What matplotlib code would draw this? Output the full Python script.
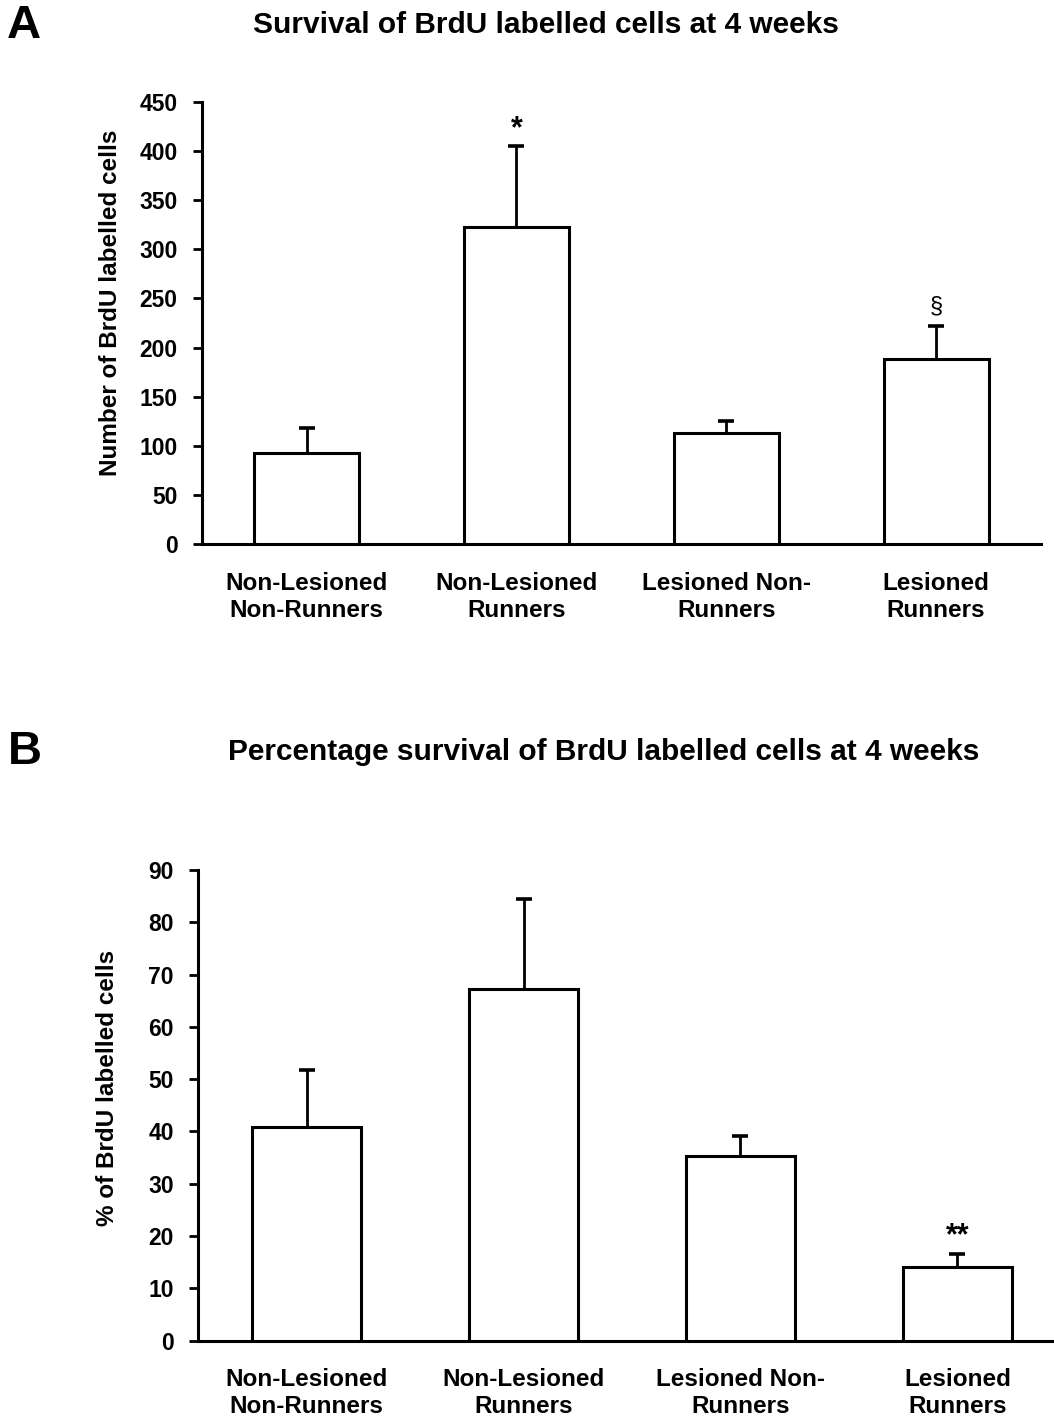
import matplotlib
matplotlib.use("Agg")
import matplotlib.pyplot as plt
import matplotlib.transforms as mtransforms
import numpy as np

plt.rcParams['font.family'] = ['Liberation Sans', 'DejaVu Sans']
plt.rcParams['font.weight'] = 'bold'

categories = ["Non-Lesioned\nNon-Runners", "Non-Lesioned\nRunners",
              "Lesioned Non-\nRunners", "Lesioned\nRunners"]

# Panel A: number of BrdU labelled cells
counts = [93, 323, 113, 188]
counts_err = [25, 82, 12, 34]
counts_marks = ["", "*", "", "§"]

# Panel B: percentage of BrdU labelled cells
percent = [40.8, 67.3, 35.2, 14.1]
percent_err = [11.0, 17.1, 3.9, 2.5]
percent_marks = ["", "", "", "**"]

W, H = 1054, 1418
fig = plt.figure(figsize=(W / 100, H / 100), dpi=100)

LW = 2.2


def panel(rect, vals, errs, marks, ymax, ystep, ylabel, title, title_xy, letter, letter_xy,
          mark_styles, ylabel_xy):
    ax = fig.add_axes(rect)
    x = np.arange(len(vals))
    ax.bar(x, vals, width=0.5, color='white', edgecolor='black', linewidth=LW, zorder=3)
    eb = ax.errorbar(x, vals, yerr=[np.zeros(len(errs)), errs], fmt='none', ecolor='black',
                     elinewidth=2.0, capsize=6, capthick=2.6, zorder=2)
    eb.lines[1][0].set_visible(False)
    for xi, v, e, m in zip(x, vals, errs, marks):
        if m:
            size, weight, off = mark_styles[m]
            ax.annotate(m, (xi, v + e), xytext=(0, off), textcoords='offset pixels',
                        ha='center', va='bottom', fontsize=size, fontweight=weight)
    ax.set_xlim(-0.5, len(vals) - 0.5)
    ax.set_ylim(0, ymax)
    ax.set_yticks(np.arange(0, ymax + ystep / 2, ystep))
    ax.set_xticks(x)
    ax.set_xticklabels(categories, fontsize=17.5, fontweight='bold', linespacing=1.22)
    ax.tick_params(axis='x', length=0, pad=20)
    ax.tick_params(axis='y', direction='out', length=6.5, width=2.0, pad=11, labelsize=16.5)
    for lbl in ax.get_yticklabels():
        lbl.set_fontweight('bold')
    for s in ['top', 'right']:
        ax.spines[s].set_visible(False)
    for s in ['left', 'bottom']:
        ax.spines[s].set_linewidth(LW)
    ax.set_ylabel(ylabel, fontsize=17.5, fontweight='bold')
    tr = mtransforms.blended_transform_factory(fig.transFigure, ax.transAxes)
    ax.yaxis.set_label_coords(ylabel_xy[0], ylabel_xy[1], transform=tr)
    fig.text(title_xy[0] / W, 1 - title_xy[1] / H, title, ha='center', va='center',
             fontsize=21.5, fontweight='bold')
    fig.text(letter_xy[0] / W, 1 - letter_xy[1] / H, letter, ha='left', va='center',
             fontsize=34, fontweight='bold')
    return ax


styles = {"*": (22, 'bold', 2), "§": (17, 'normal', 8), "**": (22, 'bold', 2)}

# Panel A axes: x 202..1041, y 101.7..544.3 px
axA = panel([201.7 / W, 1 - 544.3 / H, 839.3 / W, 442.6 / H], counts, counts_err, counts_marks,
            450, 50, "Number of BrdU labelled cells",
            "Survival of BrdU labelled cells at 4 weeks", (546, 25), "A", (7, 26),
            styles, (122 / W, 0.545))

# Panel B axes: x 198..1066, y 870..1340.5 px
axB = panel([198 / W, 1 - 1340.5 / H, 868 / W, 470.5 / H], percent, percent_err, percent_marks,
            90, 10, "% of BrdU labelled cells",
            "Percentage survival of BrdU labelled cells at 4 weeks", (604, 752), "B", (8, 752),
            styles, (119 / W, 0.537))

fig.savefig("out.png", dpi=100)
